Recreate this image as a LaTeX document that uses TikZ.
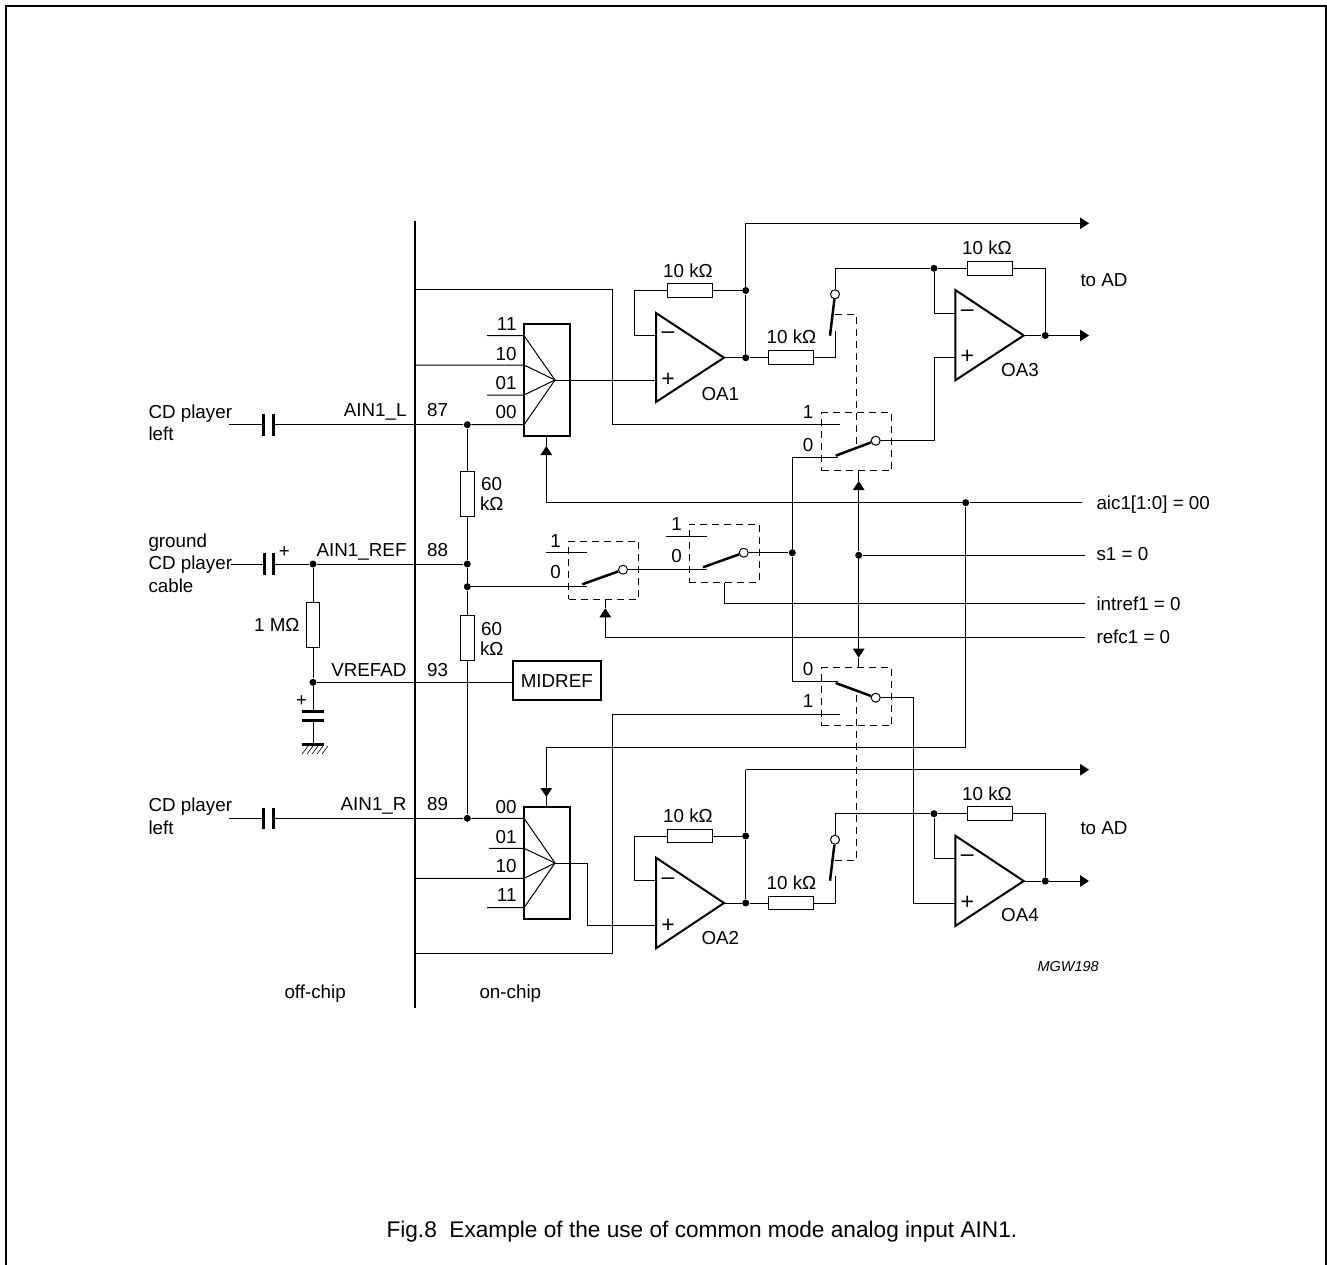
\documentclass[tikz,border=0pt]{standalone}
\usepackage{fontspec}
\setmainfont{Liberation Sans}
\usetikzlibrary{arrows.meta}
\tikzset{
    lbl/.style={inner sep=0pt,font=\fontsize{18.8}{22}\selectfont},
    lw/.style={lbl,anchor=base west},
    le/.style={lbl,anchor=base east},
    lc/.style={lbl,anchor=base},
    sgn/.style={inner sep=0pt,font=\fontsize{23}{26}\selectfont},
    dot/.style={shape=circle,fill=black,inner sep=0pt,minimum size=7pt},
    ring/.style={shape=circle,draw=black,fill=white,inner sep=0pt,minimum size=9pt},
    res/.style={shape=rectangle,draw=black,inner sep=0pt,minimum width=45pt,minimum height=13.5pt},
    resv/.style={shape=rectangle,draw=black,inner sep=0pt,minimum width=13.5pt,minimum height=45pt},
    muxbox/.style={shape=rectangle,draw=black,line width=2pt,inner sep=0pt,minimum width=46pt,minimum height=112pt},
    swbox/.style={shape=rectangle,draw=black,swdash,inner sep=0pt,minimum width=70pt,minimum height=58pt},
    swdash/.style={dash pattern=on 7pt off 5pt},
    tip/.style={-{Triangle[length=9pt,width=11.5pt]}},
    blade/.style={line width=2.5pt},
    plate/.style={line width=2.5pt},
    opamp/.style={line width=2pt,line join=miter},
}
\begin{document}
\begin{tikzpicture}[x=1pt,y=-1pt,line width=1pt]
        \useasboundingbox (0,0) rectangle (1327,1265);
        \coordinate (fa) at (6,1265);
        \coordinate (fb) at (6,6);
        \coordinate (fc) at (1326,6);
        \coordinate (fd) at (1326,1265);
        \draw[line width=2pt] (fa) -- (fb) -- (fc) -- (fd);

        % pads and bus
        \coordinate (bustop) at (415,221);
        \coordinate (busbot) at (415,1008);
        \coordinate (bt1) at (415,289.5);
        \coordinate (bt2) at (415,365);
        \coordinate (bt3) at (415,878.3);
        \coordinate (bt4) at (415,953.3);
        \draw[line width=2.5pt] (bustop) -- (busbot);

        \node[muxbox] (muxl) at (547,380) {};
        \node[muxbox] (muxr) at (547,862.8) {};
        \node[shape=rectangle,draw=black,line width=2pt,inner sep=0pt,minimum width=88pt,minimum height=38.5pt,font=\fontsize{18.8}{22}\selectfont] (midref) at (556.8,680.6) {MIDREF};

        \node[dot] (d1) at (467.3,424.7) {};
        \node[dot] (d2) at (467.3,564) {};
        \node[dot] (d3) at (467.3,586.7) {};
        \node[dot] (d4) at (467.3,818.3) {};
        \node[dot] (d5) at (313,564) {};
        \node[dot] (d6) at (313,682.3) {};
        \node[dot] (d7) at (792.3,552.7) {};
        \node[dot] (d8) at (858.7,555.3) {};
        \node[dot] (d9) at (965.7,502.7) {};
        \node[dot] (oa1fb) at (745.7,290.5) {};
        \node[dot] (oa1o) at (745.7,357.7) {};
        \node[dot] (oa2fb) at (745.7,836) {};
        \node[dot] (oa2o) at (745.7,903) {};
        \node[dot] (oa3fb) at (934,268.3) {};
        \node[dot] (oa3o) at (1045.3,335.5) {};
        \node[dot] (oa4fb) at (934,813.7) {};
        \node[dot] (oa4o) at (1045.3,881) {};

        \node[resv] (r60a) at (467.3,494.2) {};
        \node[resv] (r60b) at (467.3,637.5) {};
        \node[resv] (r1m) at (313,625.3) {};
        \node[res] (r1) at (690.2,290.5) {};
        \node[res] (r2) at (791.2,357.7) {};
        \node[res] (r3) at (990,268.3) {};
        \node[res] (r4) at (690.2,836) {};
        \node[res] (r5) at (791.2,903) {};
        \node[res] (r6) at (990,813.7) {};

        \node[swbox] (swt) at (856.5,441.5) {};
        \node[swbox] (swb) at (856.5,696.7) {};
        \node[swbox] (swm1) at (603.7,570) {};
        \node[swbox] (swm2) at (724.2,553.2) {};
        \node[ring] (rgt) at (875.7,440.7) {};
        \node[ring] (rgb) at (875.7,697.7) {};
        \node[ring] (rgm1) at (623,569.7) {};
        \node[ring] (rgm2) at (743.7,552.7) {};
        \node[ring] (rgu) at (835,294.3) {};
        \node[ring] (rgd) at (835,839.7) {};

        % capacitors
        \coordinate (in1) at (229.3,424.7);
        \coordinate (c1a) at (263.3,424.7);
        \coordinate (c1b) at (273.7,424.7);
        \coordinate (in2) at (230.7,564);
        \coordinate (c2a) at (264.3,564);
        \coordinate (c2b) at (273.7,564);
        \coordinate (in3) at (229.3,818.3);
        \coordinate (c3a) at (263.3,818.3);
        \coordinate (c3b) at (273.7,818.3);
        \coordinate (c4a) at (313,711.7);
        \coordinate (c4b) at (313,720.3);
        \coordinate (gnd) at (313,744.7);
        \draw[plate] ([yshift=-10.8pt]c1a) -- ([yshift=10.8pt]c1a);
        \draw[plate] ([yshift=-10.8pt]c1b) -- ([yshift=10.8pt]c1b);
        \draw[plate] ([yshift=-11pt]c2a) -- ([yshift=11pt]c2a);
        \draw[plate] ([yshift=-11pt]c2b) -- ([yshift=11pt]c2b);
        \draw[plate] ([yshift=-10.8pt]c3a) -- ([yshift=10.8pt]c3a);
        \draw[plate] ([yshift=-10.8pt]c3b) -- ([yshift=10.8pt]c3b);
        \draw[plate] ([xshift=-11.3pt]c4a) -- ([xshift=11.3pt]c4a);
        \draw[plate] ([xshift=-11.3pt]c4b) -- ([xshift=11.3pt]c4b);
        \draw[plate] ([xshift=-11.3pt]gnd) -- ([xshift=11.3pt]gnd);
        \foreach \hx in {302,307,312,317,322} {
            \draw[line width=.6pt] (\hx,754) -- (\hx+6,746);
        }

        \draw (in1) -- (c1a);
        \draw (in2) -- (c2a);
        \draw (in3) -- (c3a);
        \draw (c1b) -- (d1);
        \draw (c2b) -- (d5) -- (d2);
        \draw (c3b) -- (d4);
        \draw (d5) -- (r1m) -- (d6) -- (c4a);
        \draw (c4b) -- (gnd);
        \draw (d6) -- (midref.west |- d6);
        \draw (d1) -- (r60a) -- (d2) -- (d3) -- (r60b) -- (d4);

        % muxes
        \coordinate (ml11) at (524,335.7);
        \coordinate (ml10) at (524,365);
        \coordinate (ml01) at (524,395);
        \coordinate (ml00) at (524,424.7);
        \coordinate (mlf) at (555,380);
        \coordinate (ml11s) at (487,335.7);
        \coordinate (ml01s) at (487,395);
        \coordinate (mr00) at (524,818.3);
        \coordinate (mr01) at (524,848.3);
        \coordinate (mr10) at (524,878.3);
        \coordinate (mr11) at (524,907.7);
        \coordinate (mrf) at (555,863);
        \coordinate (mr01s) at (489,848.3);
        \coordinate (mr11s) at (487,907.7);
        \draw (ml11s) -- (ml11) -- (mlf);
        \draw (bt2) -- (ml10) -- (mlf);
        \draw (ml01s) -- (ml01) -- (mlf);
        \draw (d1) -- (ml00) -- (mlf);
        \draw (d4) -- (mr00) -- (mrf);
        \draw (mr01s) -- (mr01) -- (mrf);
        \draw (bt3) -- (mr10) -- (mrf);
        \draw (mr11s) -- (mr11) -- (mrf);

        % op amps
        \coordinate (oa1a) at (656,313);
        \coordinate (oa1b) at (656,402);
        \coordinate (oa1t) at (724,357.7);
        \coordinate (oa1m) at (656,335);
        \coordinate (oa1p) at (656,380);
        \coordinate (oa2a) at (656,857.7);
        \coordinate (oa2b) at (656,948.3);
        \coordinate (oa2t) at (724,903);
        \coordinate (oa2m) at (656,880.7);
        \coordinate (oa2p) at (656,925.7);
        \coordinate (oa3a) at (955.3,290);
        \coordinate (oa3b) at (955.3,380.3);
        \coordinate (oa3t) at (1023.7,335.5);
        \coordinate (oa3m) at (955.3,313.3);
        \coordinate (oa3p) at (955.3,357.3);
        \coordinate (oa4a) at (955.3,835.7);
        \coordinate (oa4b) at (955.3,926);
        \coordinate (oa4t) at (1023.7,881);
        \coordinate (oa4m) at (955.3,858.3);
        \coordinate (oa4p) at (955.3,903);
        \draw[opamp] (oa1a) -- (oa1t) -- (oa1b) -- cycle;
        \draw[opamp] (oa2a) -- (oa2t) -- (oa2b) -- cycle;
        \draw[opamp] (oa3a) -- (oa3t) -- (oa3b) -- cycle;
        \draw[opamp] (oa4a) -- (oa4t) -- (oa4b) -- cycle;
        \node[sgn] (oa1mn) at (668,335) {–};
        \node[sgn] (oa1pl) at (668,380) {+};
        \node[sgn] (oa2mn) at (668,880.7) {–};
        \node[sgn] (oa2pl) at (668,925.7) {+};
        \node[sgn] (oa3mn) at (967.3,313.3) {–};
        \node[sgn] (oa3pl) at (967.3,357) {+};
        \node[sgn] (oa4mn) at (967.3,858.3) {–};
        \node[sgn] (oa4pl) at (967.3,903) {+};

        % feedback and outputs
        \coordinate (fb1) at (634.7,290.5);
        \coordinate (fb2) at (634.7,836);
        \coordinate (top1) at (745.7,223.3);
        \coordinate (top1e) at (1089,223.3);
        \coordinate (top2) at (745.7,769.7);
        \coordinate (top2e) at (1089,769.7);
        \coordinate (out3) at (1089,335.5);
        \coordinate (out4) at (1089,881);
        \draw (oa1m) -| (fb1) -- (r1) -- (oa1fb);
        \draw (oa2m) -| (fb2) -- (r4) -- (oa2fb);
        \draw (oa1t) -- (oa1o) -- (r2);
        \draw (oa2t) -- (oa2o) -- (r5);
        \draw (oa1o) -- (oa1fb) -- (top1);
        \draw (oa2o) -- (oa2fb) -- (top2);
        \draw[tip] (top1) -- (top1e);
        \draw[tip] (top2) -- (top2e);
        \draw (mlf) -- (oa1p);
        \coordinate (mrb) at (587.3,925.7);
        \draw (mrf) -| (mrb) -- (oa2p);
        \draw (oa3t) -- (oa3o);
        \draw (oa4t) -- (oa4o);
        \draw[tip] (oa3o) -- (out3);
        \draw[tip] (oa4o) -- (out4);
        \coordinate (r3e) at (1045.3,268.3);
        \coordinate (r6e) at (1045.3,813.7);
        \draw (oa3fb) -- (r3) -- (r3e) -- (oa3o);
        \draw (oa4fb) -- (r6) -- (r6e) -- (oa4o);
        \draw (oa3fb) |- (oa3m);
        \draw (oa4fb) |- (oa4m);

        % upper and lower series switches
        \coordinate (su1) at (835,331);
        \coordinate (su2) at (830,335.7);
        \coordinate (su3) at (835,268.3);
        \coordinate (su4) at (835,314.7);
        \coordinate (su5) at (856.7,314.7);
        \coordinate (su6) at (856.7,445);
        \coordinate (sd1) at (835,876);
        \coordinate (sd2) at (830,880.7);
        \coordinate (sd3) at (835,813.7);
        \coordinate (sd4) at (835,860);
        \coordinate (sd5) at (856.7,860);
        \coordinate (sd6) at (856.7,691.7);
        \draw (r2) -| (su1);
        \draw (r5) -| (sd1);
        \draw[blade] (su2) -- (rgu);
        \draw[blade] (sd2) -- (rgd);
        \draw (rgu) -- (su3) -- (oa3fb);
        \draw (rgd) -- (sd3) -- (oa4fb);
        \draw[swdash] (su4) -- (su5) -- (su6);
        \draw[swdash] (sd4) -- (sd5) -- (sd6);

        % selector switches
        \coordinate (swt1) at (840,424.7);
        \coordinate (swt0) at (838,457.7);
        \coordinate (swtb) at (835.7,455.7);
        \coordinate (swb0) at (838,681);
        \coordinate (swb1) at (840,714.3);
        \coordinate (swbb) at (835.7,683);
        \coordinate (cr1) at (612.7,424.7);
        \coordinate (cr2) at (612.7,714.3);
        \coordinate (cr3) at (792.3,457.7);
        \coordinate (cr4) at (792.3,681);
        \coordinate (cr5) at (934,440.7);
        \coordinate (cr6) at (913.7,697.7);
        \draw (bt1) -| (cr1) -- (swt1);
        \draw (bt4) -| (cr2) -- (swb1);
        \draw (swt0) -- (cr3) -- (d7) -- (cr4) -- (swb0);
        \draw[blade] (swtb) -- (rgt);
        \draw[blade] (swbb) -- (rgb);
        \draw (rgt) -- (cr5) |- (oa3p);
        \draw (rgb) -- (cr6) |- (oa4p);

        % reference switches
        \coordinate (sm11s) at (545.7,552.7);
        \coordinate (sm11) at (587,552.7);
        \coordinate (sm10) at (587,586.7);
        \coordinate (sm1b) at (582.3,584.3);
        \coordinate (sm21s) at (666,536);
        \coordinate (sm21) at (707,536);
        \coordinate (sm20) at (707,569.7);
        \coordinate (sm2b) at (703,567.3);
        \draw (sm11s) -- (sm11);
        \draw (d3) -- (sm10);
        \draw (sm21s) -- (sm21);
        \draw (rgm1) -- (sm20);
        \draw (rgm2) -- (d7);
        \draw[blade] (sm1b) -- (rgm1);
        \draw[blade] (sm2b) -- (rgm2);

        % control lines
        \node[lw] (laic) at (1096,509) {aic1[1:0] = 00};
        \node[lw] (ls1) at (1096,560) {s1 = 0};
        \node[lw] (lint) at (1096,610) {intref1 = 0};
        \node[lw] (lrefc) at (1096,643) {refc1 = 0};
        \coordinate (aicl) at (546.3,502.7);
        \coordinate (aice) at (1081.7,502.7);
        \coordinate (aicr) at (965.7,747.5);
        \coordinate (aicm) at (546.3,747.5);
        \coordinate (mltip) at (546.3,446);
        \coordinate (mrtip) at (546.3,797);
        \draw[tip] (aicl) -- (mltip);
        \draw (mltip) -- (mltip |- muxl.south);
        \draw (aicl) -- (d9) -- (aice);
        \draw (d9) -- (aicr) -- (aicm);
        \draw[tip] (aicm) -- (mrtip);
        \draw (mrtip) -- (mrtip |- muxr.north);
        \coordinate (s1e) at (1085,555.3);
        \coordinate (swttip) at (858.7,481);
        \coordinate (swbtip) at (858.7,657.7);
        \draw (d8) -- (s1e);
        \draw[tip] (d8) -- (swttip);
        \draw[tip] (d8) -- (swbtip);
        \draw (swttip) -- (swttip |- swt.south);
        \draw (swbtip) -- (swbtip |- swb.north);
        \coordinate (ire) at (1085,603.7);
        \coordinate (irs) at (724.3,603.7);
        \draw (irs |- swm2.south) -- (irs) -- (ire);
        \coordinate (rfe) at (1085,637);
        \coordinate (rfs) at (605.3,637);
        \coordinate (swm1tip) at (605.3,608.3);
        \draw (rfe) -- (rfs);
        \draw[tip] (rfs) -- (swm1tip);
        \draw (swm1tip) -- (swm1tip |- swm1.south);

        % texts
        \node[lw] (lcd1) at (148,418) {CD player};
        \node[lw] (lcd1b) at (148,440.7) {left};
        \node[lw] (lcd2a) at (148,547) {ground};
        \node[lw] (lcd2) at (148,569.5) {CD player};
        \node[lw] (lcd2b) at (148,592.7) {cable};
        \node[lw] (lcd3) at (148,811) {CD player};
        \node[lw] (lcd3b) at (148,834) {left};
        \node[le] (lain1) at (407,416) {AIN1\_L};
        \node[le] (lain2) at (407,556) {AIN1\_REF};
        \node[le] (lvref) at (407,676) {VREFAD};
        \node[le] (lain3) at (407,810) {AIN1\_R};
        \node[lw] (l87) at (426.7,416) {87};
        \node[lw] (l88) at (426.7,556) {88};
        \node[lw] (l93) at (426.7,676) {93};
        \node[lw] (l89) at (426.7,810) {89};
        \node[lc] (lp1) at (284.3,557) {+};
        \node[lc] (lp2) at (301.7,706) {+};
        \node[le] (l1m) at (300,631.7) {1 MΩ};
        \node[lw] (l60a) at (480.7,490) {60};
        \node[lw] (l60ak) at (479.5,510.7) {kΩ};
        \node[lw] (l60b) at (480.7,635) {60};
        \node[lw] (l60bk) at (479.5,655) {kΩ};
        \node[le] (lm11) at (517,330) {11};
        \node[le] (lm10) at (517,360.3) {10};
        \node[le] (lm01) at (517,389.3) {01};
        \node[le] (lm00) at (517,418) {00};
        \node[le] (ln00) at (517,813.3) {00};
        \node[le] (ln01) at (517,843.3) {01};
        \node[le] (ln10) at (517,872) {10};
        \node[le] (ln11) at (517,901.7) {11};
        \node[lc] (lr1) at (688,277.3) {10 kΩ};
        \node[lc] (lr2) at (791.5,343.3) {10 kΩ};
        \node[lc] (lr3) at (987,254.3) {10 kΩ};
        \node[lc] (lr4) at (688,822.7) {10 kΩ};
        \node[lc] (lr5) at (791.5,889.3) {10 kΩ};
        \node[lc] (lr6) at (987,800.7) {10 kΩ};
        \node[lw] (loa1) at (701,400) {OA1};
        \node[lw] (loa2) at (701,944.3) {OA2};
        \node[lw] (loa3) at (1000.7,376) {OA3};
        \node[lw] (loa4) at (1000.7,921) {OA4};
        \node[lw] (lad1) at (1080,287) {to AD};
        \node[lw] (lad2) at (1080,834) {to AD};
        \node[lc] (lst1) at (808,418.5) {1};
        \node[lc] (lst0) at (808,451.5) {0};
        \node[lc] (lsb0) at (808,675) {0};
        \node[lc] (lsb1) at (808,707) {1};
        \node[lc] (lsm11) at (555.7,547.5) {1};
        \node[lc] (lsm10) at (555.7,578.8) {0};
        \node[lc] (lsm21) at (676.7,530.5) {1};
        \node[lc] (lsm20) at (676.7,562.2) {0};
        \node[lw] (loff) at (284,998) {off-chip};
        \node[lw] (lon) at (479,998) {on-chip};
        \node[inner sep=0pt,anchor=base west,font=\fontsize{14.5}{16}\selectfont\itshape] (lmgw) at (1037,971) {MGW198};
        \node[inner sep=0pt,anchor=base west,font=\fontsize{22.65}{26}\selectfont] (lfig) at (386,1237) {Fig.8\ \ Example of the use of common mode analog input AIN1.};
    \end{tikzpicture}
\end{document}
